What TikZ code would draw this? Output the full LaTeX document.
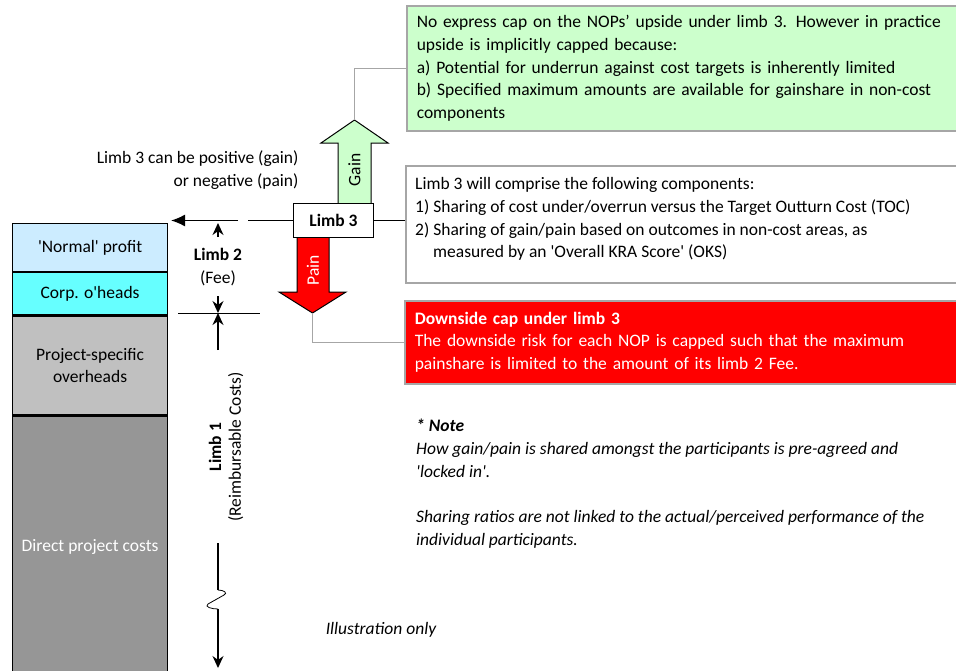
\documentclass[tikz,border=0pt]{standalone}
\usepackage{fontspec}
\setmainfont{Carlito}
\usetikzlibrary{arrows.meta}
\newcommand{\sq}{\textquotesingle}
\definecolor{profitblue}{HTML}{CCECFF}
\definecolor{oheadcyan}{HTML}{66FFFF}
\definecolor{psgray}{HTML}{C0C0C0}
\definecolor{directgray}{HTML}{969696}
\definecolor{gaingreen}{HTML}{CCFFCC}
\definecolor{boxgray}{HTML}{A6A6A6}
\tikzset{
  >={Stealth[length=12pt,width=11pt]},
  every node/.style={font=\fontsize{17.5}{22.7}\selectfont},
}
\tikzstyle{bar}=[draw,line width=1.2pt,minimum width=155pt,inner sep=0pt,align=center]
\tikzstyle{notebox}=[draw=boxgray,line width=1.5pt,anchor=north west,minimum width=560pt,text width=540pt,inner xsep=10pt,align=left]
\tikzstyle{lead}=[boxgray,line width=1.3pt]
\tikzstyle{dim}=[line width=1.3pt]
\tikzstyle{bigarrow}=[line width=1pt]

\begin{document}
\begin{tikzpicture}[x=1pt,y=-1pt]
    \useasboundingbox (0,0) rectangle (956,670);
    % cost stack
    \node[bar,fill=profitblue,minimum height=48pt,anchor=north west] (profit) at (12,223) {\sq Normal\sq{} profit};
    \node[bar,fill=oheadcyan,minimum height=42pt,anchor=north] (corp) at (profit.south) {Corp. o\sq heads};
    \node[bar,fill=psgray,minimum height=99pt,anchor=north] (projoh) at (corp.south) {Project-specific\\overheads};
    \node[bar,fill=directgray,minimum height=262pt,text=white,anchor=north] (direct) at (projoh.south) {Direct project costs};

    % note boxes
    \node[notebox,fill=gaingreen,minimum height=125pt] (upcap) at (406,5)
      {No express cap on the NOPs’ upside under limb 3. However in practice\\
       upside is implicitly capped because:\\
       a) Potential for underrun against cost targets is inherently limited\\
       b) Specified maximum amounts are available for gainshare in non-cost\\
       components};
    \node[notebox,minimum height=117pt] (compbox) at (405,165) {};
    \node[anchor=north west,align=left,inner sep=0pt] (comptext) at (415,177.5)
      {Limb 3 will comprise the following components:\\
       1) Sharing of cost under/overrun versus the Target Outturn Cost (TOC)\\
       2) Sharing of gain/pain based on outcomes in non-cost areas, as\\
       \hspace*{18pt}measured by an \sq Overall KRA Score\sq{} (OKS)};
    \node[notebox,fill=red,text=white,minimum height=83pt] (downcap) at (404,300)
      {\textbf{Downside cap under limb 3}\\
       The downside risk for each NOP is capped such that the maximum\\
       painshare is limited to the amount of its limb 2 Fee.};

    % gain / pain arrows
    \draw[bigarrow,fill=gaingreen] (338,206) -- (338,143) -- (321,143) -- (354.5,120) coordinate (gaintip)
      -- (388,143) -- (371,143) -- (371,206) -- cycle;
    \node[rotate=90] (gain) at (354.5,170) {Gain};
    \draw[bigarrow,fill=red] (297,236) -- (297,292) -- (279,292) -- (312.5,313) coordinate (paintip)
      -- (346,292) -- (329,292) -- (329,236) -- cycle;
    \node[rotate=90,text=white] (pain) at (313,270) {Pain};
    \node[draw,line width=1pt,fill=white,minimum width=80pt,minimum height=34pt] (limb3) at (333.5,220.5) {\textbf{Limb 3}};

    \draw[lead] (gaintip) |- (upcap.west);
    \draw[lead] (paintip) |- (downcap.west);
    \draw[dim,line width=1pt] (limb3.east) -- (compbox.west |- limb3.east);

    \node[align=right,anchor=east] (sign) at (302,170) {Limb 3 can be positive (gain)\\or negative (pain)};

    % limb 2 / limb 1 dimensions
    \coordinate (gapR) at (248,220.5);
    \coordinate (gapL) at (238,220.5);
    \draw[line width=1pt] (limb3.west) -- (gapR);
    \draw[dim,-{Latex[length=14pt,width=12pt]}] (gapL) -- (171,220.5);
    \draw[dim,->] (218,237) -- (218,223);
    \node[align=center] (limb2) at (218,267) {\textbf{Limb 2}\\(Fee)};
    \draw[dim,->] (218,296) -- (218,313);
    \draw[line width=0.8pt] (178,313) -- (260,313);
    \draw[dim,->] (218,350) -- (218,313);
    \node[rotate=90,align=center] (limb1) at (226,447) {\textbf{Limb 1}\\[-3pt](Reimbursable Costs)};
    \draw[dim] (218,543) -- (218,590);
    \draw[line width=0.8pt] (218,590) .. controls (224,590) and (228,593) .. (224,595)
      -- (208,604) .. controls (204,607) and (212,609) .. (218,609);
    \draw[dim,->] (218,609) -- (218,668);

    % notes
    \node[anchor=north west,align=left,inner sep=0pt,font=\fontsize{17.5}{22.7}\selectfont\itshape] (note) at (416,419)
      {\textbf{* Note}\\
       How gain/pain is shared amongst the participants is pre-agreed and\\
       \sq locked in\sq.\\[22.7pt]
       Sharing ratios are not linked to the actual/perceived performance of the\\
       individual participants.};
    \node[font=\fontsize{17.5}{22.7}\selectfont\itshape] (illus) at (381,630) {Illustration only};
\end{tikzpicture}
\end{document}
